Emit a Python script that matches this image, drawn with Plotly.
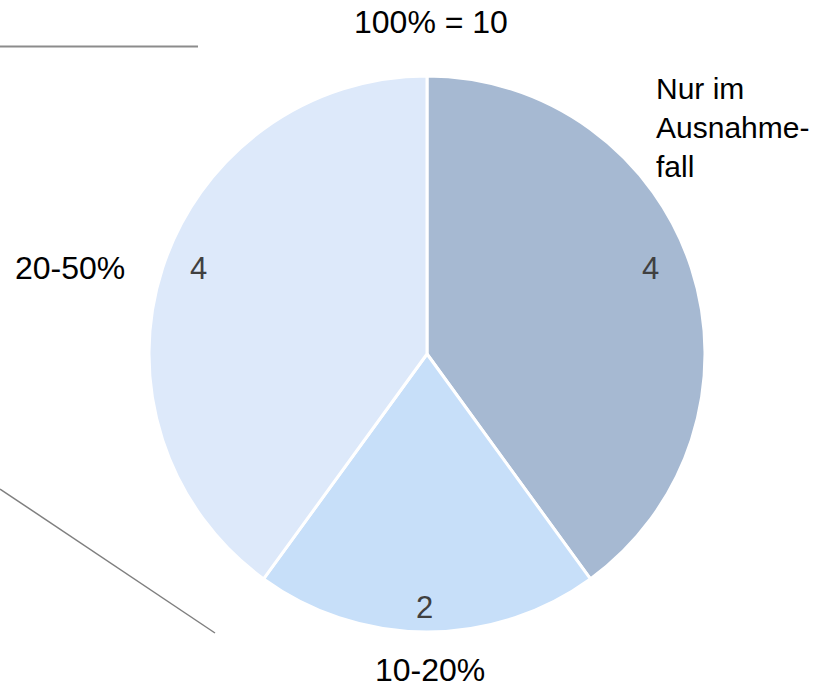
import plotly.graph_objects as go

# Slice data (clockwise from 12 o'clock)
categories = ["Nur im<br>Ausnahme-<br>fall", "10-20%", "20-50%"]
values = [4, 2, 4]
colors = ["#A6B9D2", "#C7DFF9", "#DDE9FA"]
total_label = "100% = 10"

W, H = 835, 688
cx, cy, r = 427, 354, 278  # pie centre and radius in pixels

# Pixel anchors for the in-slice value labels and the category labels
value_pos = [(650, 268), (424, 607), (198, 268)]
label_pos = [(655, 127, "left", 30), (430, 670, "center", 32), (70, 268, "center", 32)]


def px(x):
    return x / W


def py(y):
    return 1 - y / H


fig = go.Figure()
fig.add_trace(go.Pie(
    values=values,
    labels=categories,
    marker=dict(colors=colors, line=dict(color="white", width=3)),
    sort=False,
    direction="clockwise",
    rotation=0,
    textinfo="none",
    hoverinfo="skip",
    showlegend=False,
    domain=dict(x=[px(cx - r), px(cx + r)], y=[py(cy + r), py(cy - r)]),
))

FAMILY = "Liberation Sans, Arial, sans-serif"

value_font = dict(family=FAMILY, size=31, color="#404040")
for v, (x, y) in zip(values, value_pos):
    fig.add_annotation(x=px(x), y=py(y), xref="paper", yref="paper",
                       text=str(v), showarrow=False, font=value_font,
                       xanchor="center", yanchor="middle")

fig.add_annotation(x=px(431), y=py(22), xref="paper", yref="paper", text=total_label,
                   showarrow=False, font=dict(family=FAMILY, size=32, color="#000000"),
                   xanchor="center", yanchor="middle", borderpad=0)
for text, (x, y, anchor, size) in zip(categories, label_pos):
    fig.add_annotation(x=px(x), y=py(y), xref="paper", yref="paper", text=text,
                       showarrow=False, font=dict(family=FAMILY, size=size, color="#000000"),
                       xanchor=anchor, yanchor="middle", align="left", borderpad=0)

# Connector lines
fig.add_shape(type="line", xref="paper", yref="paper",
              x0=0, y0=py(46.5), x1=px(198), y1=py(46.5),
              line=dict(color="#8C8C8C", width=2))
fig.add_shape(type="line", xref="paper", yref="paper",
              x0=0, y0=py(489), x1=px(215), y1=py(633),
              line=dict(color="#7F7F7F", width=1.5))

fig.update_layout(
    width=W, height=H,
    margin=dict(l=0, r=0, t=0, b=0),
    paper_bgcolor="white", plot_bgcolor="white",
    font=dict(family=FAMILY),
)

fig.write_html("out.html")
